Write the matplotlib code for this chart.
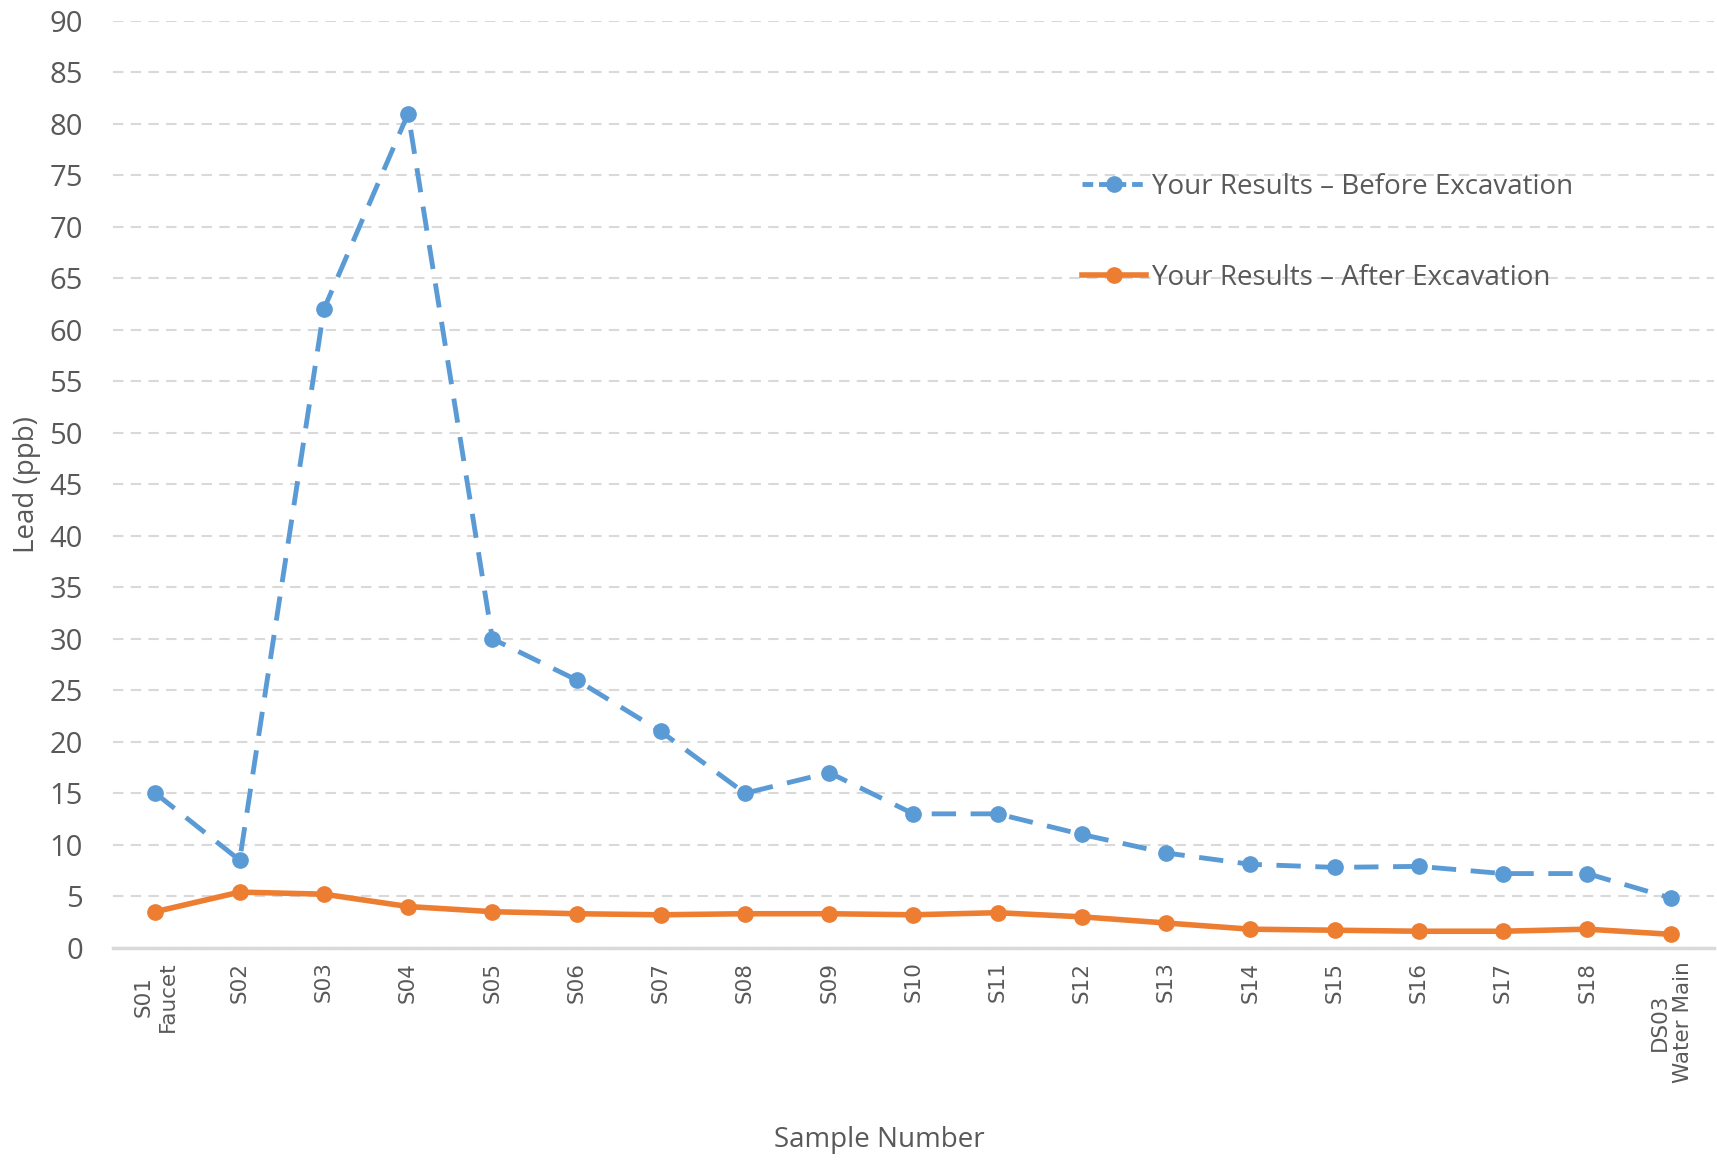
import matplotlib.pyplot as plt

samples = ['S01\nFaucet', 'S02', 'S03', 'S04', 'S05', 'S06', 'S07', 'S08', 'S09', 'S10',
           'S11', 'S12', 'S13', 'S14', 'S15', 'S16', 'S17', 'S18', 'DS03\nWater Main']
before = [15, 8.5, 62, 81, 30, 26, 21, 15, 17, 13, 13, 11, 9.2, 8.1, 7.8, 7.9, 7.2, 7.2, 4.8]
after = [3.5, 5.4, 5.2, 4.0, 3.5, 3.3, 3.2, 3.3, 3.3, 3.2, 3.4, 3.0, 2.4, 1.8, 1.7, 1.6, 1.6, 1.8, 1.3]

txt = '#595959'
plt.rcParams['font.family'] = ['Open Sans', 'DejaVu Sans']

fig = plt.figure(figsize=(17.17, 11.6), dpi=100)
ax = fig.add_axes([0.066, 0.183, 0.932, 0.799])

x = list(range(len(samples)))
ax.plot(x, before, color='#5B9BD5', lw=3.5, ls=(0, (5, 3)), marker='o', ms=11,
        label='Your Results \u2013 Before Excavation', zorder=3)
ax.plot(x, after, color='#ED7D31', lw=4, marker='o', ms=11,
        label='Your Results \u2013 After Excavation', zorder=3)

ax.set_xlim(-0.5, len(samples) - 0.5)
ax.set_ylim(0, 90)
ax.set_yticks(range(0, 91, 5))
ax.yaxis.grid(True, color='#D9D9D9', lw=1.5, ls=(0, (5, 3.5)))
ax.set_axisbelow(True)

for s in ['top', 'right', 'left']:
    ax.spines[s].set_visible(False)
ax.spines['bottom'].set_color('#D9D9D9')
ax.spines['bottom'].set_linewidth(2.5)

ax.tick_params(axis='y', length=0, labelsize=21, colors=txt, pad=22)
ax.tick_params(axis='x', length=0, colors=txt, pad=10)
ax.set_xticks(x)
ax.set_xticklabels(samples, rotation=90, fontsize=15.5, family='DejaVu Sans', va='top',
                   linespacing=1.25)

ax.set_ylabel('Lead (ppb)', fontsize=20, color=txt, labelpad=6)
fig.text(0.512, 0.017, 'Sample Number', fontsize=20, color=txt, ha='center', va='center')

leg = ax.legend(loc='upper left', bbox_to_anchor=(0.59, 0.863), frameon=False,
                fontsize=20, labelspacing=2.27, handlelength=2.3, handletextpad=0.2)
for t in leg.get_texts():
    t.set_color(txt)
leg.get_lines()[0].set_dashes([2.2, 1.2])

fig.savefig('out.png', dpi=100)
